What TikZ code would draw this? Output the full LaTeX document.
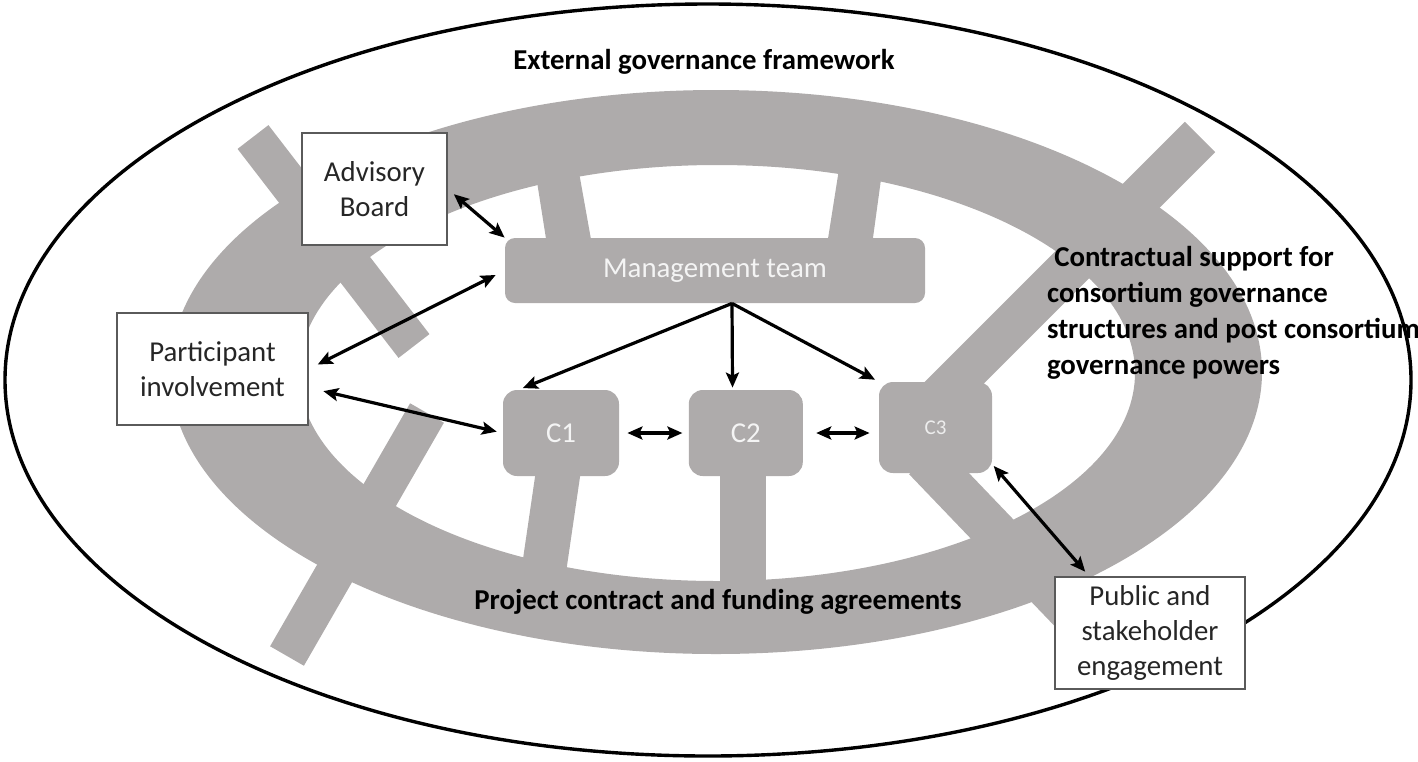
\documentclass[tikz,border=0pt]{standalone}
\usepackage{fontspec}
\setmainfont{Carlito}
\usepackage{xcolor}
\usepackage{tikz}
\usetikzlibrary{positioning, calc, arrows.meta}

\definecolor{ringgray}{RGB}{174,171,171}
\definecolor{boxline}{RGB}{90,90,90}
\definecolor{paletext}{RGB}{244,244,244}

\begin{document}
\begin{tikzpicture}[
  x=0.5pt, y=-0.5pt,
  font=\fontsize{14.4}{17.5}\selectfont,
  >={Stealth[length=7.5pt,width=6.5pt,inset=1.5pt]},
  every node/.style={align=center},
  partybox/.style={rectangle, draw=boxline, line width=0.75pt, fill=white,
                   inner sep=0pt, minimum height=56pt, text=black!85},
  unitbox/.style={rectangle, fill=ringgray, rounded corners=7pt, inner sep=0pt,
                  minimum width=57pt, minimum height=43pt, text=paletext},
  bar/.style={draw=ringgray, line cap=butt},
  stub/.style={fill=ringgray},
  link/.style={<->, line width=1.6pt},
  feed/.style={->, line width=1.6pt},
  framelabel/.style={font=\fontsize{14.4}{18}\selectfont\bfseries}
]

% --- Bounding box (same proportions as the figure) ---
\useasboundingbox (0,0) rectangle (1418,761);

% --- External framework ellipse ---
\draw[line width=1.7pt] (708,380) ellipse [x radius=703, y radius=376];

% --- Grey contract ring ---
\fill[ringgray, even odd rule] (716,372) ellipse [x radius=546, y radius=282]
                               (717,373) ellipse [x radius=418, y radius=208];

% --- Spokes crossing the ring ---
\draw[bar, line width=19.5pt] (253,137) -- (414,346);
\draw[bar, line width=19.5pt] (427,413) -- (287,656);
\draw[bar, line width=21.5pt] (1200,137) -- (938,399);
\draw[bar, line width=22pt] (925,459) -- (1085,626);

% --- Stubs joining the units to the ring ---
\fill[stub] (547,245) -- (592,245) -- (575,150) -- (532,150) -- cycle;
\fill[stub] (827,245) -- (872,245) -- (885,150) -- (842,150) -- cycle;
\fill[stub] (536,470) -- (581,470) -- (562,600) -- (517,600) -- cycle;
\fill[stub] (720,470) -- (766,470) -- (766,600) -- (720,600) -- cycle;

% --- Management and consortium units ---
\node[unitbox, minimum width=210pt, minimum height=32.5pt, rounded corners=5pt]
  (mgmt) at (715,270.5) {Management team};
\node[unitbox, minimum width=58pt] (c1) at (561,433) {C1};
\node[unitbox, right=34.5pt of c1] (c2) {C2};
\node[unitbox, minimum width=56.5pt, minimum height=45.5pt,
      font=\fontsize{10.5}{12}\selectfont, text=paletext!90!ringgray]
  (c3) at (935.5,427.5) {C3};

% --- Stakeholder boxes ---
\node[partybox, minimum width=72.5pt] (adv) at (374.5,189) {Advisory\\Board};
\node[partybox, minimum width=95.5pt] (part) at (212.5,369) {Participant\\involvement};
\node[partybox, minimum width=95pt] (pub) at (1150,633) {Public and\\stakeholder\\engagement};

% --- Framework labels ---
\node[framelabel] (ext) at (704,62) {External governance framework};
\node[framelabel] (proj) at (718,602) {Project contract and funding agreements};
\node[framelabel, align=left, anchor=west] (cons) at (1040,313)
  {\hspace*{0.25em}Contractual support for\\consortium governance\\
   structures and post consortium\\governance powers};

% --- Connectors ---
\draw[link, shorten <=4pt] (adv.east) -- (mgmt.north west);
\draw[link, shorten <=5pt, shorten >=5pt] (part.east) -- (mgmt.west);
\draw[link, shorten <=7.5pt, shorten >=3pt] (part.349) -- (c1.west);
\coordinate (fork) at ([xshift=8.5pt]mgmt.south);
\draw[feed, shorten >=2pt] (fork) -- (c1.134);
\draw[feed, shorten >=1pt] (fork) -- (c2.107);
\draw[feed, shorten >=2pt] (fork) -- (c3.north west);
\draw[link, shorten <=4pt, shorten >=3pt] (c1.east) -- (c2.west);
\draw[link, shorten <=6.5pt, shorten >=4.5pt] (c2.east) -- (c2.east -| c3.west);
\draw[link, shorten <=1pt, shorten >=3pt] (c3.-33) -- (pub.137);

\end{tikzpicture}
\end{document}
